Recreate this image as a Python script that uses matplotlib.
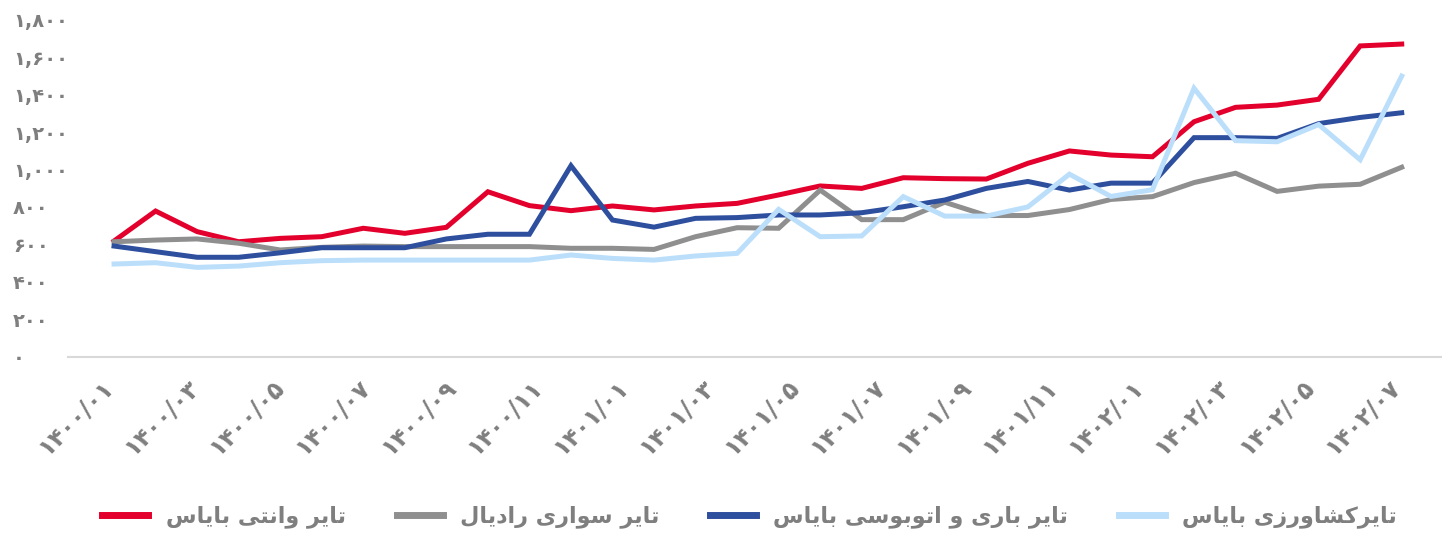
import numpy as np
import matplotlib
matplotlib.use("Agg")
import matplotlib.pyplot as plt
from matplotlib.transforms import ScaledTranslation

# ---------------------------------------------------------
# data
# ---------------------------------------------------------
RED = [618, 778, 668, 614, 632, 641, 686, 659, 691, 881, 807, 780, 805, 784, 805, 819,
       864, 912, 899, 956, 951, 949, 1033, 1099, 1077, 1068, 1255, 1332, 1344, 1375, 1660, 1670]
GRAY = [614, 623, 629, 606, 570, 584, 591, 588, 588, 588, 588, 579, 579, 573, 641, 689,
        686, 890, 732, 732, 825, 754, 754, 786, 840, 855, 930, 980, 883, 911, 921, 1012]
BLUE = [591, 561, 531, 531, 555, 582, 582, 582, 629, 654, 654, 1020, 730, 692, 739, 743,
        757, 757, 769, 801, 837, 899, 936, 890, 927, 927, 1170, 1170, 1166, 1245, 1278, 1303]
LIGHT = [495, 502, 477, 484, 502, 513, 516, 516, 516, 516, 516, 543, 525, 516, 538, 552,
         787, 641, 645, 855, 751, 751, 800, 975, 856, 892, 1434, 1154, 1148, 1240, 1052, 1499]

SERIES_NAMES = ["تایر وانتی بایاس", "تایر سواری رادیال",
                "تایر باری و اتوبوسی بایاس", "تایرکشاورزی بایاس"]
SERIES_COLORS = ["#E3002C", "#8F8F8F", "#2E4F9E", "#BBDFFB"]

X_LABELS = ["۱۴۰۰/۰۱", "۱۴۰۰/۰۳", "۱۴۰۰/۰۵", "۱۴۰۰/۰۷", "۱۴۰۰/۰۹", "۱۴۰۰/۱۱",
            "۱۴۰۱/۰۱", "۱۴۰۱/۰۳", "۱۴۰۱/۰۵", "۱۴۰۱/۰۷", "۱۴۰۱/۰۹", "۱۴۰۱/۱۱",
            "۱۴۰۲/۰۱", "۱۴۰۲/۰۳", "۱۴۰۲/۰۵", "۱۴۰۲/۰۷"]
Y_TICKS = [0, 200, 400, 600, 800, 1000, 1200, 1400, 1600, 1800]
Y_LABELS = ["۰", "۲۰۰", "۴۰۰", "۶۰۰", "۸۰۰", "۱,۰۰۰", "۱,۲۰۰", "۱,۴۰۰", "۱,۶۰۰", "۱,۸۰۰"]

# ---------------------------------------------------------
# minimal persian shaping (matplotlib has no bidi / joining)
# ---------------------------------------------------------
FORMS = {
    "ا": (0xFE8D, 0xFE8E, None, None),
    "ب": (0xFE8F, 0xFE90, 0xFE91, 0xFE92),
    "ت": (0xFE95, 0xFE96, 0xFE97, 0xFE98),
    "د": (0xFEA9, 0xFEAA, None, None),
    "ر": (0xFEAD, 0xFEAE, None, None),
    "ز": (0xFEAF, 0xFEB0, None, None),
    "س": (0xFEB1, 0xFEB2, 0xFEB3, 0xFEB4),
    "ش": (0xFEB5, 0xFEB6, 0xFEB7, 0xFEB8),
    "ل": (0xFEDD, 0xFEDE, 0xFEDF, 0xFEE0),
    "ن": (0xFEE5, 0xFEE6, 0xFEE7, 0xFEE8),
    "و": (0xFEED, 0xFEEE, None, None),
    "ی": (0xFEEF, 0xFEF0, 0xFEF3, 0xFEF4),
    "ک": (0xFB8E, 0xFB8F, 0xFB90, 0xFB91),
}


def shape(text):
    out = []
    for j, ch in enumerate(text):
        if ch not in FORMS:
            out.append(ch)
            continue
        prev = text[j - 1] if j > 0 else ""
        nxt = text[j + 1] if j + 1 < len(text) else ""
        join_prev = prev in FORMS and FORMS[prev][2] is not None
        join_next = nxt in FORMS and FORMS[ch][2] is not None
        iso, fin, ini, med = FORMS[ch]
        if join_prev and join_next:
            code = med
        elif join_prev:
            code = fin
        elif join_next:
            code = ini
        else:
            code = iso
        out.append(chr(code))
    return "".join(out)[::-1]


plt.rcParams["font.family"] = ["DejaVu Sans"]
TXT = "#7F7F7F"

fig = plt.figure(figsize=(14.42, 5.33), dpi=100)
ax = fig.add_axes([0.0472, 0.3308, 0.9528, 0.6322])

x = np.arange(len(RED))
for vals, name, col in zip([RED, GRAY, BLUE, LIGHT], SERIES_NAMES, SERIES_COLORS):
    ax.plot(x, vals, color=col, lw=3.6, solid_joinstyle="miter", label=shape(name))

ax.set_xlim(-1.107, 31.97)
ax.set_ylim(0, 1800)

ax.set_yticks(Y_TICKS)
ax.set_yticklabels(Y_LABELS, fontsize=14, fontweight="bold", color=TXT)
for lab in ax.get_yticklabels():
    lab.set_horizontalalignment("left")
ax.tick_params(axis="y", length=0, pad=39.6)

ax.set_xticks(np.linspace(0, len(RED) - 1, len(X_LABELS)))
ax.set_xticklabels(X_LABELS, fontsize=17, fontweight="bold", color=TXT,
                   rotation=45, ha="right", va="center", rotation_mode="anchor")
ax.tick_params(axis="x", length=0, pad=19)
shift = ScaledTranslation(-5 / 100, 0, fig.dpi_scale_trans)
for lab in ax.get_xticklabels():
    lab.set_transform(lab.get_transform() + shift)

for s in ["top", "right", "left"]:
    ax.spines[s].set_visible(False)
ax.spines["bottom"].set_color("#D9D9D9")
ax.spines["bottom"].set_linewidth(1.5)

leg = fig.legend(loc="center", bbox_to_anchor=(0.52, 0.03), ncol=4, frameon=False,
                 fontsize=16, handlelength=2.07, handletextpad=0.77, columnspacing=2.3)
for t in leg.get_texts():
    t.set_color(TXT)
    t.set_fontweight("bold")
for h in leg.get_lines():
    h.set_linewidth(5)

plt.savefig("out.png", dpi=100)
